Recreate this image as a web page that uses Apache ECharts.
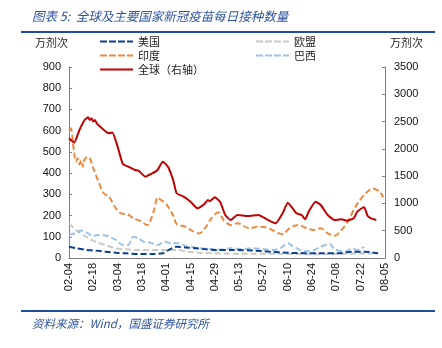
<!DOCTYPE html>
<html>
<head>
<meta charset="utf-8">
<script src="https://cdn.jsdelivr.net/npm/echarts@6/dist/echarts.min.js"></script>
<style>
html,body{margin:0;padding:0;background:#fff;}
#c{width:442px;height:348px;}
</style>
</head>
<body>
<div id="c"></div>
<script>
// Categories: daily dates 2021-02-04 .. 2021-08-05
const startDate = [2021, 1, 4];
const dayCount = 183;
const leftTicks = { min: 0, max: 900, interval: 100 };
const rightTicks = { min: 0, max: 3500, interval: 500 };

// Series names
const names = ['美国', '欧盟', '印度', '巴西', '全球（右轴）'];

// Values (day offset from 02-04, value in 万剂次)
const usDays = [0, 4, 10, 15, 21, 27, 33, 40, 48, 54, 58, 62, 67, 73, 79, 85, 95, 106, 125, 145, 155, 163, 170, 178];
const usVals = [53, 46, 38, 35, 30, 25, 22, 19, 19, 22, 41, 53, 50, 46, 41, 38, 38, 35, 25, 22, 22, 30, 30, 22];

const euDays = [0, 4, 10, 15, 21, 27, 33, 40, 55, 62, 68, 75, 83, 100, 120, 140, 160, 176];
const euVals = [163, 132, 100, 77, 61, 46, 41, 38, 38, 38, 30, 25, 22, 20, 20, 18, 20, 22];

const inDays = [0, 1, 3, 4, 5, 6, 7, 8, 9, 11, 12, 14, 17, 20, 23, 27, 30, 34, 37, 41, 45, 49, 51, 53, 56, 60, 62, 67, 71, 75, 79, 82, 86, 89, 93, 97, 104, 109, 113, 117, 121, 123, 127, 132, 137, 141, 145, 149, 153, 157, 161, 165, 170, 175, 179, 181];
const inVals = [603, 611, 493, 454, 470, 440, 460, 430, 465, 477, 470, 423, 360, 305, 289, 234, 210, 205, 187, 175, 155, 226, 285, 273, 254, 200, 160, 148, 128, 116, 148, 187, 215, 179, 156, 164, 140, 148, 145, 132, 116, 113, 140, 156, 140, 132, 140, 116, 105, 132, 179, 242, 297, 328, 312, 286];

const brDays = [0, 4, 7, 11, 13, 17, 22, 27, 31, 34, 37, 40, 43, 47, 51, 55, 59, 63, 67, 71, 75, 80, 84, 88, 93, 99, 106, 112, 118, 122, 126, 129, 134, 139, 145, 150, 153, 159, 163, 166, 170];
const brVals = [108, 118, 129, 116, 104, 108, 104, 85, 61, 61, 100, 93, 77, 72, 61, 77, 69, 69, 57, 52, 46, 44, 41, 40, 46, 42, 46, 42, 38, 48, 69, 55, 35, 32, 53, 66, 42, 30, 45, 38, 53];

const glDays = [0, 3, 6, 9, 11, 12, 13, 14, 15, 16, 19, 23, 25, 28, 31, 35, 38, 40, 44, 48, 51, 54, 57, 60, 62, 66, 70, 74, 78, 80, 81, 84, 87, 90, 93, 97, 103, 109, 114, 119, 123, 126, 131, 134, 136, 138, 142, 145, 149, 153, 157, 160, 164, 166, 168, 170, 172, 174, 177];
const glVals = [2193, 2113, 2346, 2529, 2578, 2530, 2560, 2500, 2530, 2468, 2376, 2285, 2300, 2040, 1722, 1661, 1612, 1600, 1490, 1551, 1612, 1765, 1673, 1429, 1185, 1124, 1032, 910, 989, 1063, 1040, 1112, 1032, 788, 696, 788, 769, 788, 709, 636, 818, 1014, 818, 788, 709, 848, 1032, 971, 788, 696, 709, 684, 727, 848, 898, 928, 769, 727, 696];

const colors = ['#0B3F91', '#C9C9C9', '#EE8A3F', '#9DC3E6', '#C00000'];

function pad(n){ return (n < 10 ? '0' : '') + n; }
const categories = [];
for (let i = 0; i < dayCount; i++) {
  const d = new Date(Date.UTC(startDate[0], startDate[1], startDate[2] + i));
  categories.push(pad(d.getUTCMonth() + 1) + '-' + pad(d.getUTCDate()));
}
function pairs(days, vals){ return days.map((d, i) => [d, vals[i]]); }

const font = 'Liberation Sans, Arial, sans-serif';
const cjk = '"Noto Sans CJK SC", sans-serif';
const dashIcon = 'path://M0,0h7v2h-7z M9,0h7v2h-7z M18,0h7v2h-7z M27,0h6v2h-6z';
const solidIcon = 'path://M0,0h33v2h-33z';

function dashed(name, idx, days, vals){
  return {
    name: name, type: 'line', yAxisIndex: 0, data: pairs(days, vals),
    symbol: 'none', smooth: 0.3,
    lineStyle: { color: colors[idx], width: 2, type: [6, 3] },
    itemStyle: { color: colors[idx] }
  };
}

function legend(name, left, top, icon, color){
  return {
    data: [{ name: name, icon: icon, itemStyle: { color: color } }],
    left: left, top: top, itemWidth: 33, itemHeight: 2.5,
    textStyle: { fontFamily: cjk, fontSize: 11, color: '#222' },
    padding: 0
  };
}

function fmt(v){ return String(v); }

const chart = echarts.init(document.getElementById('c'), null, { renderer: 'canvas' });
chart.setOption({
  animation: false,
  backgroundColor: '#fff',
  graphic: [
    { type: 'text', left: 32, top: 10, style: { text: '图表 5:  全球及主要国家新冠疫苗每日接种数量', fontFamily: cjk, fontSize: 12.5, fontStyle: 'italic', fill: '#2F54A0' } },
    { type: 'rect', shape: { x: 21, y: 31, width: 414, height: 2 }, style: { fill: '#1F4E9C' } },
    { type: 'rect', shape: { x: 21, y: 310, width: 414, height: 2 }, style: { fill: '#1F4E9C' } },
    { type: 'text', left: 32, top: 318, style: { text: '资料来源：Wind，国盛证券研究所', fontFamily: cjk, fontSize: 11.5, fontStyle: 'italic', fill: '#2F54A0' } },
    { type: 'text', left: 35, top: 37, style: { text: '万剂次', fontFamily: cjk, fontSize: 11, fill: '#222' } },
    { type: 'text', left: 390, top: 37, style: { text: '万剂次', fontFamily: cjk, fontSize: 11, fill: '#222' } }
  ],
  legend: [
    legend(names[0], 100, 36, dashIcon, colors[0]),
    legend(names[1], 256, 36, dashIcon, colors[1]),
    legend(names[2], 100, 50, dashIcon, colors[2]),
    legend(names[3], 256, 50, dashIcon, colors[3]),
    legend(names[4], 100, 64, solidIcon, colors[4])
  ],
  grid: { left: 69, right: 57, top: 67, bottom: 90 },
  xAxis: {
    type: 'category', data: categories, boundaryGap: false,
    axisLine: { lineStyle: { color: '#808080', width: 1 } },
    axisTick: { show: false },
    axisLabel: { interval: 13, rotate: 90, fontFamily: font, fontSize: 11, color: '#111', margin: 5 },
    splitLine: { show: false }
  },
  yAxis: [
    {
      type: 'value', min: leftTicks.min, max: leftTicks.max, interval: leftTicks.interval,
      axisLine: { show: true, lineStyle: { color: '#808080' } },
      axisTick: { show: true, inside: true, length: 3, lineStyle: { color: '#808080' } },
      axisLabel: { fontFamily: font, fontSize: 11, color: '#111', margin: 8, formatter: fmt },
      splitLine: { show: false }
    },
    {
      type: 'value', min: rightTicks.min, max: rightTicks.max, interval: rightTicks.interval,
      position: 'right',
      axisLine: { show: true, lineStyle: { color: '#808080' } },
      axisTick: { show: true, inside: true, length: 3, lineStyle: { color: '#808080' } },
      axisLabel: { fontFamily: font, fontSize: 11, color: '#111', margin: 9, formatter: fmt },
      splitLine: { show: false }
    }
  ],
  series: [
    dashed(names[1], 1, euDays, euVals),
    dashed(names[3], 3, brDays, brVals),
    dashed(names[0], 0, usDays, usVals),
    dashed(names[2], 2, inDays, inVals),
    {
      name: names[4], type: 'line', yAxisIndex: 1, data: pairs(glDays, glVals),
      symbol: 'none', smooth: 0.15,
      lineStyle: { color: colors[4], width: 2 },
      itemStyle: { color: colors[4] }
    }
  ]
});
</script>
</body>
</html>
